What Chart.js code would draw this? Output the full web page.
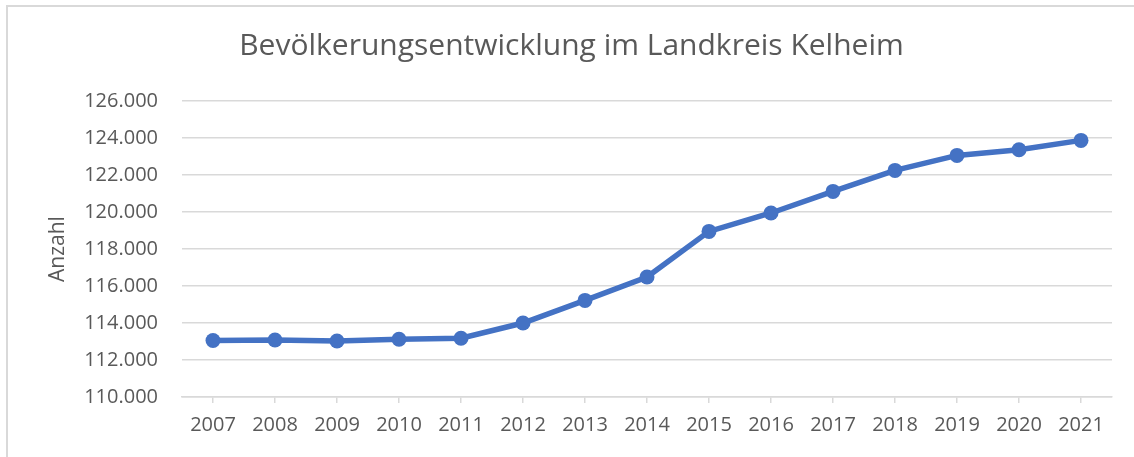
<!DOCTYPE html>
<html>
<head>
<meta charset="utf-8">
<script src="https://cdn.jsdelivr.net/npm/chart.js@4"></script>
<style>
  html, body { margin: 0; padding: 0; background: #ffffff; overflow: hidden; }
  #wrap { position: relative; width: 1134px; height: 457px; }
  #frame { position: absolute; left: 6px; top: 5px; width: 1200px; height: 500px;
           border-top: 2px solid #d9d9d9; border-left: 2px solid #d9d9d9; pointer-events: none; }
  canvas { position: absolute; left: 0; top: 0; }
</style>
</head>
<body>
<div id="wrap">
  <canvas id="c" width="1134" height="457"></canvas>
  <div id="frame"></div>
</div>
<script>
const chartTitle = 'Bevölkerungsentwicklung im Landkreis Kelheim';
const yAxisTitle = 'Anzahl';
const years = ['2007','2008','2009','2010','2011','2012','2013','2014','2015','2016','2017','2018','2019','2020','2021'];
const population = [113056, 113083, 113029, 113120, 113175, 114000, 115222, 116486, 118951, 119946, 121114, 122249, 123059, 123368, 123870];
const yTickValues = [110000, 112000, 114000, 116000, 118000, 120000, 122000, 124000, 126000];
const yTickLabels = ['110.000', '112.000', '114.000', '116.000', '118.000', '120.000', '122.000', '124.000', '126.000'];

const textColor = '#595959';
const gridColor = '#d9d9d9';
const lineColor = '#4472C4';
const fontFamily = "'Open Sans', 'Liberation Sans', sans-serif";

new Chart(document.getElementById('c'), {
  type: 'line',
  data: {
    labels: years,
    datasets: [{
      data: population,
      borderColor: lineColor,
      backgroundColor: lineColor,
      borderWidth: 5.5,
      pointRadius: 7.5,
      pointBorderWidth: 0,
      pointBackgroundColor: lineColor,
      tension: 0,
      fill: false
    }]
  },
  options: {
    responsive: false,
    animation: false,
    devicePixelRatio: 1,
    layout: { padding: { left: 31, right: 22, top: 0, bottom: 0 } },
    plugins: {
      legend: { display: false },
      tooltip: { enabled: false },
      title: {
        display: true,
        text: chartTitle,
        color: textColor,
        font: { family: fontFamily, size: 30, weight: 'normal' },
        padding: { top: 28, bottom: 37 }
      }
    },
    scales: {
      x: {
        offset: true,
        grid: { display: true, drawOnChartArea: false, drawTicks: true, tickLength: 6, color: gridColor, lineWidth: 1.5 },
        border: { display: true, color: gridColor, width: 1.5 },
        ticks: { color: textColor, font: { family: fontFamily, size: 20 }, padding: 10, maxRotation: 0, autoSkip: false },
        afterFit: (s) => { s.height = 60; }
      },
      y: {
        min: 110000,
        max: 126000,
        afterBuildTicks: (s) => { s.ticks = yTickValues.map(v => ({ value: v })); },
        grid: { color: gridColor, lineWidth: 1.5, drawTicks: false },
        border: { display: false },
        ticks: {
          color: textColor,
          font: { family: fontFamily, size: 20 },
          padding: 24,
          callback: (v) => { const i = yTickValues.indexOf(v); return i >= 0 ? yTickLabels[i] : ''; }
        },
        title: {
          display: true,
          text: yAxisTitle,
          color: textColor,
          font: { family: fontFamily, size: 21 },
          padding: { top: 14, bottom: 0 }
        },
        afterFit: (s) => { s.width = 151; }
      }
    }
  }
});
</script>
</body>
</html>
